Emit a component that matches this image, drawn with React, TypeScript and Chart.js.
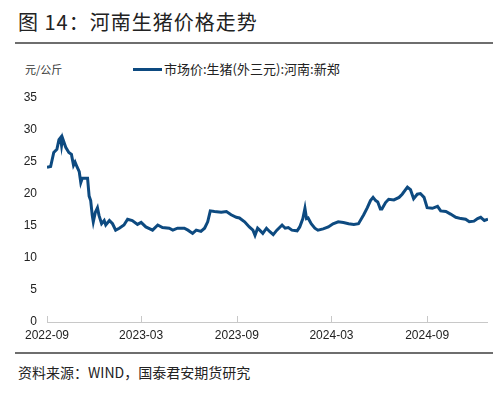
import React, { useEffect, useRef } from "react";
import { Chart, registerables } from "chart.js";

Chart.register(...registerables);

const START_DATE = "2022-09-01";
const END_DATE = "2025-01-01";

const dates: string[] = [
  "2022-09-01", "2022-09-08", "2022-09-14", "2022-09-20", "2022-09-24", "2022-09-27", "2022-09-29", "2022-10-01",
  "2022-10-07", "2022-10-13", "2022-10-18", "2022-10-22", "2022-10-25", "2022-10-29", "2022-11-02", "2022-11-05",
  "2022-11-08", "2022-11-18", "2022-11-21", "2022-11-24", "2022-11-27", "2022-11-29", "2022-12-03", "2022-12-07",
  "2022-12-10", "2022-12-15", "2022-12-20", "2022-12-23", "2022-12-30", "2023-01-05", "2023-01-11", "2023-01-18",
  "2023-01-27", "2023-02-03", "2023-02-12", "2023-02-22", "2023-03-01", "2023-03-10", "2023-03-23", "2023-04-02",
  "2023-04-11", "2023-04-24", "2023-05-01", "2023-05-10", "2023-05-23", "2023-05-30", "2023-06-08", "2023-06-15",
  "2023-06-24", "2023-07-01", "2023-07-07", "2023-07-12", "2023-07-20", "2023-08-02", "2023-08-12", "2023-08-21",
  "2023-08-31", "2023-09-06", "2023-09-16", "2023-09-25", "2023-10-02", "2023-10-06", "2023-10-11", "2023-10-15",
  "2023-10-21", "2023-10-28", "2023-11-03", "2023-11-10", "2023-11-17", "2023-11-27", "2023-12-03", "2023-12-09",
  "2023-12-16", "2023-12-26", "2023-12-31", "2024-01-06", "2024-01-10", "2024-01-13", "2024-01-16", "2024-01-22",
  "2024-01-29", "2024-02-04", "2024-02-14", "2024-02-24", "2024-03-04", "2024-03-14", "2024-03-24", "2024-04-03",
  "2024-04-13", "2024-04-22", "2024-05-02", "2024-05-09", "2024-05-15", "2024-05-20", "2024-05-25", "2024-05-29",
  "2024-06-03", "2024-06-06", "2024-06-13", "2024-06-19", "2024-06-29", "2024-07-09", "2024-07-15", "2024-07-25",
  "2024-07-31", "2024-08-06", "2024-08-13", "2024-08-19", "2024-08-26", "2024-09-01", "2024-09-11", "2024-09-21",
  "2024-09-27", "2024-10-07", "2024-10-16", "2024-10-26", "2024-11-05", "2024-11-14", "2024-11-21", "2024-11-30",
  "2024-12-07", "2024-12-13", "2024-12-20", "2024-12-27",
];

const prices: number[] = [
  24.1, 24.2, 26.4, 26.9, 28.4, 28.7, 27.5, 28.6,
  27.2, 26.4, 26.1, 24.4, 24.9, 24.1, 23.4, 21.7,
  22.4, 22.4, 19.6, 18.9, 16.6, 15.6, 17.1, 17.8,
  16.6, 15.3, 15.8, 15.1, 15.8, 15.3, 14.3, 14.6,
  15.1, 16.0, 15.8, 15.2, 15.5, 14.8, 14.3, 15.1,
  14.7, 14.6, 14.3, 14.6, 14.6, 14.3, 13.8, 14.3,
  14.1, 14.6, 15.6, 17.3, 17.2, 17.1, 17.2, 16.7,
  16.3, 16.2, 15.6, 14.8, 14.3, 13.5, 14.6, 14.3,
  13.8, 14.6, 14.1, 13.6, 14.3, 15.1, 14.6, 14.7,
  14.3, 14.2, 14.8, 16.1, 17.7, 16.1, 16.2, 15.3,
  14.6, 14.3, 14.5, 14.8, 15.3, 15.6, 15.5, 15.3,
  15.2, 15.3, 16.7, 17.8, 18.9, 19.4, 18.9, 18.7,
  17.6, 17.6, 18.6, 19.1, 19.0, 19.4, 19.9, 21.0,
  20.6, 19.2, 19.9, 20.0, 19.4, 17.8, 17.7, 18.0,
  17.3, 17.2, 16.8, 16.3, 16.1, 16.0, 15.6, 15.7,
  16.1, 16.3, 15.8, 16.0,
];

const xTickDates: string[] = ["2022-09-01", "2023-03-01", "2023-09-01", "2024-03-01", "2024-09-01"];
const xTickLabels: string[] = ["2022-09", "2023-03", "2023-09", "2024-03", "2024-09"];

const seriesName = "市场价:生猪(外三元):河南:新郑";
const unitLabel = "元/公斤";
const titleText = "图 14：河南生猪价格走势";
const sourceText = "资料来源：WIND，国泰君安期货研究";

const LINE_COLOR = "#0d4a80";
const CJK = '"Noto Sans CJK SC", "Noto Sans", sans-serif';
const NUM = '"Liberation Sans", Arial, sans-serif';

const dayIndex = (s: string) => {
  const [y, m, d] = s.split("-").map(Number);
  const [y0, m0, d0] = START_DATE.split("-").map(Number);
  return Math.round((Date.UTC(y, m - 1, d) - Date.UTC(y0, m0 - 1, d0)) / 86400000);
};

export default function App() {
  const canvasRef = useRef<HTMLCanvasElement | null>(null);

  useEffect(() => {
    if (!canvasRef.current) return;
    const points = dates.map((d, i) => ({ x: dayIndex(d), y: prices[i] }));
    const tickVals = xTickDates.map(dayIndex);

    const tickMarks = {
      id: "tickMarks",
      afterDraw(chart: any) {
        const { ctx, scales } = chart;
        const xs = scales.x;
        const y0 = chart.chartArea.bottom;
        ctx.save();
        ctx.strokeStyle = "#c8c8c8";
        ctx.lineWidth = 1;
        ctx.beginPath();
        ctx.moveTo(chart.chartArea.left, y0 + 0.5);
        ctx.lineTo(chart.chartArea.right, y0 + 0.5);
        tickVals.forEach((v) => {
          const px = Math.round(xs.getPixelForValue(v)) + 0.5;
          ctx.moveTo(px, y0);
          ctx.lineTo(px, y0 - 6);
        });
        ctx.stroke();
        ctx.restore();
      },
    };

    const chart = new Chart(canvasRef.current, {
      type: "line",
      data: {
        datasets: [
          {
            label: seriesName,
            data: points,
            borderColor: LINE_COLOR,
            borderWidth: 3,
            pointRadius: 0,
            tension: 0,
            fill: false,
          },
        ],
      },
      options: {
        animation: false,
        responsive: false,
        maintainAspectRatio: false,
        layout: { padding: { top: 9, right: 12, bottom: 0, left: 0 } },
        plugins: { legend: { display: false }, tooltip: { enabled: false } },
        scales: {
          x: {
            type: "linear",
            min: 0,
            max: dayIndex(END_DATE) - 5,
            afterBuildTicks: (scale: any) => {
              scale.ticks = tickVals.map((v) => ({ value: v }));
            },
            afterFit: (scale: any) => {
              scale.height = 23;
            },
            grid: { display: false, drawTicks: false },
            border: { display: false },
            ticks: {
              autoSkip: false,
              maxRotation: 0,
              padding: 6,
              color: "#222",
              font: { family: NUM, size: 12 },
              callback: (v: any) => {
                const i = tickVals.indexOf(Number(v));
                return i >= 0 ? xTickLabels[i] : "";
              },
            },
          },
          y: {
            min: 0,
            max: 35,
            afterFit: (scale: any) => {
              scale.width = 47;
            },
            ticks: {
              stepSize: 5,
              padding: 10,
              color: "#222",
              font: { family: NUM, size: 12 },
            },
            grid: { display: false, drawTicks: false },
            border: { display: false },
          },
        },
      },
      plugins: [tickMarks],
    });
    return () => chart.destroy();
  }, []);

  return (
    <div
      style={{
        position: "absolute",
        left: 0,
        top: 0,
        width: 500,
        height: 395,
        background: "#fff",
        overflow: "hidden",
      }}
    >
      <div
        style={{
          position: "absolute",
          left: 18,
          top: 9,
          fontFamily: CJK,
          fontSize: 20,
          lineHeight: "26px",
          color: "#222",
          letterSpacing: 1,
          whiteSpace: "nowrap",
        }}
      >
        {titleText}
      </div>
      <div style={{ position: "absolute", left: 15, top: 42, width: 478, height: 2, background: "#6e6e6e" }} />
      <div
        style={{
          position: "absolute",
          left: 25,
          top: 61,
          fontFamily: CJK,
          fontSize: 11,
          lineHeight: "16px",
          color: "#333",
          whiteSpace: "nowrap",
        }}
      >
        {unitLabel}
      </div>
      <div style={{ position: "absolute", left: 133, top: 68, width: 29, height: 3, background: LINE_COLOR }} />
      <div
        style={{
          position: "absolute",
          left: 164,
          top: 60,
          fontFamily: CJK,
          fontSize: 13,
          lineHeight: "18px",
          color: "#222",
          whiteSpace: "nowrap",
        }}
      >
        {seriesName}
      </div>
      <canvas
        ref={canvasRef}
        width={500}
        height={265}
        style={{ position: "absolute", left: 0, top: 80, width: 500, height: 265 }}
      />
      <div style={{ position: "absolute", left: 15, top: 352, width: 478, height: 2, background: "#6e6e6e" }} />
      <div
        style={{
          position: "absolute",
          left: 18,
          top: 362,
          fontFamily: CJK,
          fontSize: 14,
          lineHeight: "20px",
          color: "#222",
          whiteSpace: "nowrap",
        }}
      >
        {sourceText}
      </div>
    </div>
  );
}
